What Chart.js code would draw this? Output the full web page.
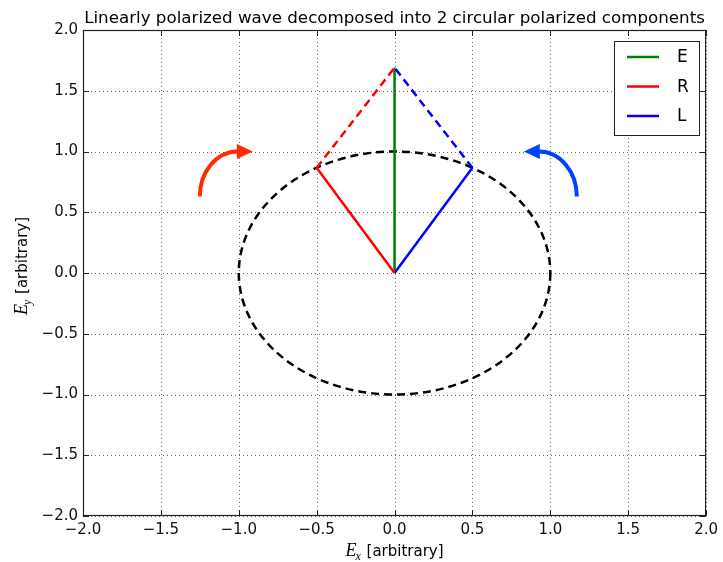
<!DOCTYPE html>
<html>
<head>
<meta charset="utf-8">
<script src="https://cdn.jsdelivr.net/npm/chart.js@4.4.0/dist/chart.umd.min.js"></script>
<style>
  html, body { margin: 0; padding: 0; background: #fff; }
  #wrap { width: 723px; height: 562px; }
</style>
</head>
<body>
<div id="wrap"><canvas id="chart" width="723" height="562"></canvas></div>
<script>
// values
const titleText = 'Linearly polarized wave decomposed into 2 circular polarized components';
const tickValues = [-2.0, -1.5, -1.0, -0.5, 0.0, 0.5, 1.0, 1.5, 2.0];
const originPt = [0, 0];
const eTip = [0, 1.69];
const rTip = [-0.5, 0.866];
const lTip = [0.5, 0.866];
const circleCenter = [0, 0];
const circleRadius = 1;
const seriesNames = ['E', 'R', 'L'];
const seriesColors = ['#008000', '#ff0000', '#0000ff'];
const arrowStarts = [[-1.25, 0.63], [1.17, 0.63]];
const arrowEnds = [[-0.91, 1.0], [0.83, 1.0]];
const arrowColors = ['#ff2a00', '#0040ff'];

const pt = p => ({ x: p[0], y: p[1] });
const fmtTick = v => (v < 0 ? '\u2212' : '') + Math.abs(v).toFixed(1);

function lineSet(label, color, a, b, dashed) {
    return {
        label: label,
        data: [pt(a), pt(b)],
        borderColor: color,
        backgroundColor: color,
        borderWidth: 2.5,
        borderDash: dashed ? [8, 5] : [],
        showLine: true,
        pointRadius: 0,
        fill: false
    };
}

const datasets = [
    lineSet('R', seriesColors[1], originPt, rTip, false),
    lineSet('R', seriesColors[1], rTip, eTip, true),
    lineSet('L', seriesColors[2], originPt, lTip, false),
    lineSet('L', seriesColors[2], lTip, eTip, true),
    lineSet('E', seriesColors[0], originPt, eTip, false)
];

// grid, circle, frame, arrows, legend, labels (matplotlib look)
const mplPlugin = {
    id: 'mpl',
    beforeDatasetsDraw(chart) {
        const { ctx, chartArea: a, scales: { x, y } } = chart;
        ctx.save();
        ctx.strokeStyle = 'rgba(0,0,0,0.6)';
        ctx.lineWidth = 1;
        ctx.setLineDash([1, 3]);
        tickValues.forEach(v => {
            const px = Math.round(x.getPixelForValue(v)) + 0.5;
            const py = Math.round(y.getPixelForValue(v)) + 0.5;
            ctx.beginPath(); ctx.moveTo(px, a.top); ctx.lineTo(px, a.bottom); ctx.stroke();
            ctx.beginPath(); ctx.moveTo(a.left, py); ctx.lineTo(a.right, py); ctx.stroke();
        });
        // dashed unit circle
        const cx = x.getPixelForValue(circleCenter[0]);
        const cy = y.getPixelForValue(circleCenter[1]);
        const rx = x.getPixelForValue(circleCenter[0] + circleRadius) - cx;
        const ry = cy - y.getPixelForValue(circleCenter[1] + circleRadius);
        ctx.strokeStyle = '#000';
        ctx.lineWidth = 2.5;
        ctx.setLineDash([8, 5]);
        ctx.beginPath();
        ctx.ellipse(cx, cy, rx, ry, 0, 0, Math.PI * 2);
        ctx.stroke();
        ctx.restore();
    },
    afterDatasetsDraw(chart) {
        const { ctx, chartArea: a, scales: { x, y } } = chart;
        ctx.save();
        // curved arrows
        arrowStarts.forEach((s, i) => {
            const p0 = { x: x.getPixelForValue(s[0]), y: y.getPixelForValue(s[1]) };
            const p1 = { x: x.getPixelForValue(arrowEnds[i][0]), y: y.getPixelForValue(arrowEnds[i][1]) };
            const dir = Math.sign(p1.x - p0.x);
            const headLen = 16, headHalf = 7.5;
            const baseX = p1.x - dir * headLen;
            const k = 0.55;
            ctx.strokeStyle = arrowColors[i];
            ctx.fillStyle = arrowColors[i];
            ctx.lineWidth = 4;
            ctx.beginPath();
            ctx.moveTo(p0.x, p0.y);
            ctx.bezierCurveTo(p0.x, p0.y - k * (p0.y - p1.y), baseX - k * (baseX - p0.x), p1.y, baseX + dir, p1.y);
            ctx.stroke();
            ctx.beginPath();
            ctx.moveTo(p1.x, p1.y);
            ctx.lineTo(baseX, p1.y - headHalf);
            ctx.lineTo(baseX, p1.y + headHalf);
            ctx.closePath();
            ctx.fill();
        });
        // frame and inward ticks
        ctx.strokeStyle = '#222';
        ctx.lineWidth = 1.2;
        ctx.strokeRect(a.left + 0.5, a.top + 0.5, a.right - a.left - 1, a.bottom - a.top - 1);
        ctx.lineWidth = 1;
        tickValues.forEach(v => {
            const px = Math.round(x.getPixelForValue(v)) + 0.5;
            const py = Math.round(y.getPixelForValue(v)) + 0.5;
            ctx.beginPath();
            ctx.moveTo(px, a.bottom); ctx.lineTo(px, a.bottom - 6);
            ctx.moveTo(px, a.top); ctx.lineTo(px, a.top + 6);
            ctx.moveTo(a.left, py); ctx.lineTo(a.left + 6, py);
            ctx.moveTo(a.right, py); ctx.lineTo(a.right - 6, py);
            ctx.stroke();
        });
        // legend
        ctx.fillStyle = '#fff';
        ctx.fillRect(614, 41, 85, 94);
        ctx.strokeStyle = '#222';
        ctx.strokeRect(614.5, 41.5, 85, 94);
        ctx.font = '17px "DejaVu Sans"';
        ctx.textBaseline = 'middle';
        ctx.textAlign = 'left';
        seriesNames.forEach((n, i) => {
            const ly = 57 + i * 29.5;
            ctx.strokeStyle = seriesColors[i];
            ctx.lineWidth = 2.5;
            ctx.beginPath(); ctx.moveTo(627, ly); ctx.lineTo(659, ly); ctx.stroke();
            ctx.fillStyle = '#000';
            ctx.fillText(n, 677, ly + 1);
        });
        ctx.restore();
    },
    afterDraw(chart) {
        const { ctx, chartArea: a } = chart;
        ctx.save();
        ctx.fillStyle = '#000';
        ctx.font = '16.7px "DejaVu Sans"';
        ctx.textAlign = 'center';
        ctx.textBaseline = 'alphabetic';
        ctx.fillText(titleText, (a.left + a.right) / 2, 23);
        drawMathLabel(ctx, 'x', (a.left + a.right) / 2, 556, 0);
        drawMathLabel(ctx, 'y', 27, 266, -Math.PI / 2);
        ctx.restore();
    }
};

function drawMathLabel(ctx, sub, cx, baseY, rot) {
    const fE = 'italic 18px "Liberation Serif"';
    const fS = 'italic 12px "Liberation Serif"';
    const fT = '15px "DejaVu Sans"';
    const rest = ' [arbitrary]';
    ctx.save();
    ctx.font = fE; const wE = ctx.measureText('E').width;
    ctx.font = fS; const wS = ctx.measureText(sub).width;
    ctx.font = fT; const wT = ctx.measureText(rest).width;
    const total = wE + wS + wT;
    ctx.translate(cx, baseY);
    ctx.rotate(rot);
    ctx.textAlign = 'left';
    ctx.textBaseline = 'alphabetic';
    let x0 = -total / 2;
    ctx.font = fE; ctx.fillText('E', x0, 0); x0 += wE;
    ctx.font = fS; ctx.fillText(sub, x0 - 1, 4); x0 += wS;
    ctx.font = fT; ctx.fillText(rest, x0, 0);
    ctx.restore();
}

new Chart(document.getElementById('chart'), {
    type: 'scatter',
    data: { datasets: datasets },
    plugins: [mplPlugin],
    options: {
        responsive: false,
        animation: false,
        devicePixelRatio: 1,
        layout: { padding: { top: 30, right: 14, bottom: 0, left: 0 } },
        plugins: { legend: { display: false }, title: { display: false }, tooltip: { enabled: false } },
        scales: {
            x: {
                type: 'linear', min: -2, max: 2,
                grid: { display: false, drawTicks: false },
                border: { display: false },
                afterFit: s => { s.height = 46; },
                afterBuildTicks: s => { s.ticks = tickValues.map(v => ({ value: v })); },
                ticks: { padding: 5, autoSkip: false, maxRotation: 0, color: '#111', font: { family: 'DejaVu Sans', size: 15 }, callback: fmtTick }
            },
            y: {
                type: 'linear', min: -2, max: 2,
                grid: { display: false, drawTicks: false },
                border: { display: false },
                afterFit: s => { s.width = 83; },
                afterBuildTicks: s => { s.ticks = tickValues.map(v => ({ value: v })); },
                ticks: { padding: 5, autoSkip: false, color: '#111', font: { family: 'DejaVu Sans', size: 15 }, callback: fmtTick }
            }
        }
    }
});
</script>
</body>
</html>
